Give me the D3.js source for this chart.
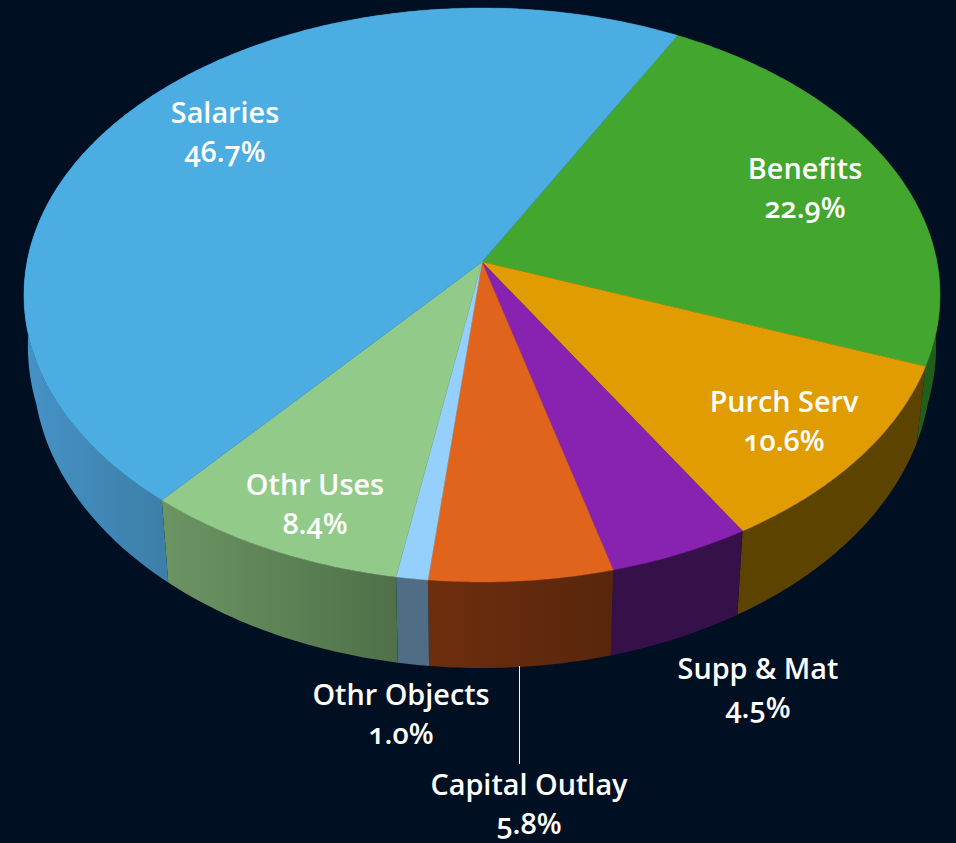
<!DOCTYPE html>
<html>
<head>
<meta charset="utf-8">
<script src="https://cdn.jsdelivr.net/npm/d3@7"></script>
<style>
html,body{margin:0;padding:0;background:#010f22;}
svg{display:block;}
text{font-family:"Open Sans",Lato,sans-serif;font-weight:600;fill:#fff;text-anchor:middle;font-size:28.8px;font-feature-settings:"onum" 1;}
</style>
</head>
<body>
<svg id="chart" width="956" height="843"></svg>
<script>
// Data, in drawing order clockwise from the Salaries/Benefits edge
const categories = ["Benefits","Purch Serv","Supp & Mat","Capital Outlay","Othr Objects","Othr Uses","Salaries"];
const shares = [22.9,10.6,4.5,5.8,1.0,8.4,46.7];

// Styles
const topColors = ["#42a62f","#e09c00","#8822b0","#e0641c","#94d0fb","#92cb89","#4bade2"];
const wallLeft  = ["#1f5f1a","#5c4300","#361049","#6e2e0d","#4f6d85","#6c9563","#4592c6"];
const wallRight = ["#1f5f1a","#5c4300","#361049","#58260c","#4f6d85","#4f7049","#3d7fa9"];
const labelPos = [[805,179],[784,412],[758,679],[529,795],[401,705],[315,495],[225,123]];

const W = 956, H = 843;
const svg = d3.select("#chart");
const defs = svg.append("defs");

// Perspective projection of the pie disc
const cx = 482, cy = 262, a = 455, b = 283.2, k = -0.115;
const project = t => {
  const u = Math.sin(t), v = -Math.cos(t), w = 1 + k * v;
  return [cx + a * u / w, cy + b * v / w];
};
const shrink = d3.scaleLinear().domain([250, 330]).range([1, 0.98]).clamp(true);
const drop = ([x, y]) => [cx + (x - cx) * shrink(y), y + 86 + 0.045 * (y - 582)];

const startAngle = 28.2 * Math.PI / 180;
const arcs = d3.pie().sort(null).value(d => d)
  .startAngle(startAngle).endAngle(startAngle + 2 * Math.PI)(shares);

const sample = d => {
  const n = Math.max(4, Math.ceil((d.endAngle - d.startAngle) / 0.01));
  return d3.range(n + 1).map(i => project(d.startAngle + (d.endAngle - d.startAngle) * i / n));
};
const line = d3.line();

// Walls
const walls = svg.append("g");
arcs.forEach((d, i) => {
  const rim = sample(d);
  const low = rim.map(drop).reverse();
  const xs = rim.filter(p => p[1] > 320).map(p => p[0]);
  const id = "wall" + i;
  const grad = defs.append("linearGradient").attr("id", id)
    .attr("gradientUnits", "userSpaceOnUse")
    .attr("x1", d3.min(xs)).attr("x2", d3.max(xs)).attr("y1", 0).attr("y2", 0);
  grad.append("stop").attr("offset", 0).attr("stop-color", wallLeft[i]);
  grad.append("stop").attr("offset", 1).attr("stop-color", wallRight[i]);
  walls.append("path").attr("d", line(rim.concat(low)) + "Z").attr("fill", `url(#${id})`);
});

// Top faces
const tops = svg.append("g");
arcs.forEach((d, i) => {
  tops.append("path").attr("d", line([[cx, cy]].concat(sample(d))) + "Z")
    .attr("fill", topColors[i]).attr("stroke", topColors[i]).attr("stroke-width", 0.4);
});

// Leader line for Capital Outlay
svg.append("line").attr("x1", 519.5).attr("x2", 519.5).attr("y1", 666).attr("y2", 764)
  .attr("stroke", "#f0f2f4").attr("stroke-width", 1);

// Labels
const labels = svg.append("g");
categories.forEach((c, i) => {
  const [x, y] = labelPos[i];
  labels.append("text").attr("x", x).attr("y", y).text(c);
  labels.append("text").attr("x", x).attr("y", y + 39).text(d3.format(".1f")(shares[i]) + "%");
});
</script>
</body>
</html>
